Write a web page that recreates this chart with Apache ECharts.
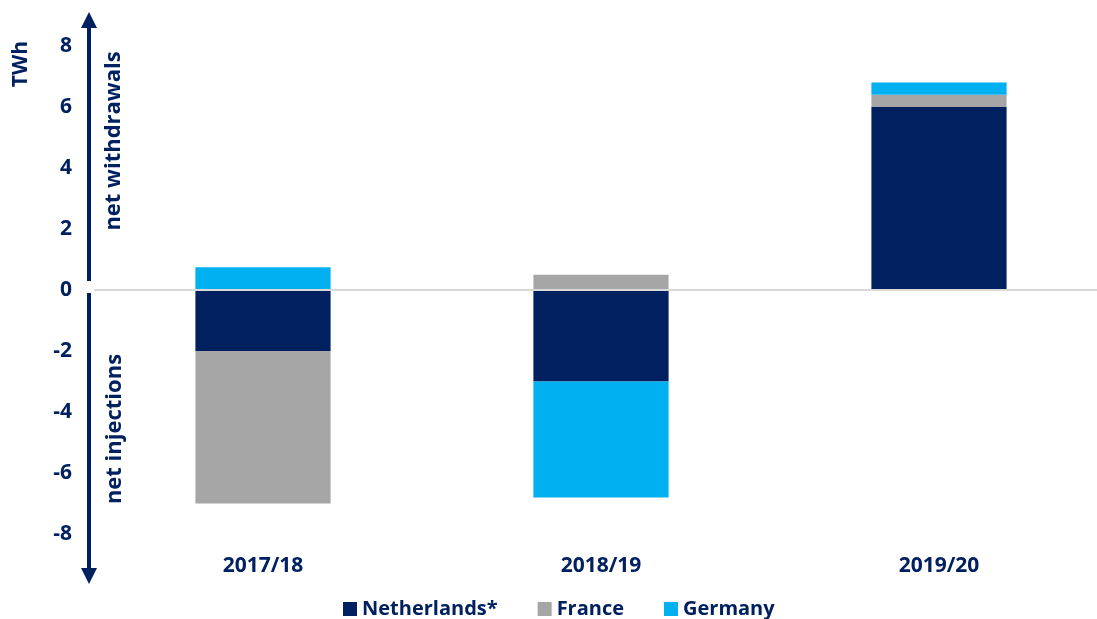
<!DOCTYPE html>
<html><head><meta charset="utf-8">
<script src="https://cdn.jsdelivr.net/npm/echarts@6/dist/echarts.min.js"></script>
<style>html,body{margin:0;padding:0;background:#fff;overflow:hidden}#c{width:1108px;height:619px}</style>
</head><body><div id="c"></div>
<script>
const categories = ['2017/18', '2018/19', '2019/20'];
const netherlands = [-2, -3, 6];
const france = [-5, 0.5, 0.4];
const germany = [0.75, -3.8, 0.4];
const yTicks = [-8, -6, -4, -2, 0, 2, 4, 6, 8];

const NAVY = '#002060', GREY = '#A6A6A6', CYAN = '#00B0F0';
const FONT = 'Open Sans';
const chart = echarts.init(document.getElementById('c'));
const option = {
  animation: false,
  grid: { left: 94, right: 0, top: 46, bottom: 85 },
  legend: {
    bottom: -5, left: 338, itemWidth: 14, itemHeight: 14, itemGap: 40,
    icon: 'rect',
    textStyle: { color: NAVY, fontFamily: FONT, fontWeight: 'bold', fontSize: 20 },
    data: ['Netherlands*', 'France', 'Germany']
  },
  xAxis: {
    type: 'category', data: categories, position: 'bottom',
    axisLine: { show: false, onZero: false }, axisTick: { show: false },
    axisLabel: { color: NAVY, fontFamily: FONT, fontWeight: 'bold', fontSize: 21, margin: 22 }
  },
  yAxis: {
    type: 'value', min: yTicks[0], max: yTicks[yTicks.length - 1], interval: 2,
    splitLine: { show: false }, axisLine: { show: false }, axisTick: { show: false },
    axisLabel: { color: NAVY, fontFamily: FONT, fontWeight: 'bold', fontSize: 21, margin: 22 }
  },
  series: [
    { name: 'Netherlands*', type: 'bar', stack: 's', data: netherlands, barWidth: '40%',
      itemStyle: { color: NAVY },
      markLine: { silent: true, symbol: 'none', label: { show: false },
        lineStyle: { color: '#D9D9D9', width: 2, type: 'solid' }, data: [{ yAxis: 0 }], z: 10 } },
    { name: 'France', type: 'bar', stack: 's', data: france, barWidth: '40%', itemStyle: { color: GREY } },
    { name: 'Germany', type: 'bar', stack: 's', data: germany, barWidth: '40%', itemStyle: { color: CYAN } }
  ]
};
chart.setOption(option);

const y0 = chart.convertToPixel({ yAxisIndex: 0 }, 0);
const yTop = chart.convertToPixel({ yAxisIndex: 0 }, yTicks[yTicks.length - 1]);
const yBot = chart.convertToPixel({ yAxisIndex: 0 }, yTicks[0]);
const ax = 89;
const style = { stroke: NAVY, lineWidth: 4 };
const rotFont = 'bold 22px "Open Sans"';
chart.setOption({
  graphic: [
    { type: 'line', shape: { x1: ax, y1: yTop - 20, x2: ax, y2: y0 - 9 }, style },
    { type: 'polygon', shape: { points: [[ax, yTop - 34], [ax - 8, yTop - 18], [ax + 8, yTop - 18]] }, style: { fill: NAVY } },
    { type: 'line', shape: { x1: ax, y1: y0 + 3, x2: ax, y2: yBot + 38 }, style },
    { type: 'polygon', shape: { points: [[ax, yBot + 50], [ax - 8, yBot + 34], [ax + 8, yBot + 34]] }, style: { fill: NAVY } },
    { type: 'text', x: 114, y: y0 - 149, rotation: Math.PI / 2, style: { text: 'net withdrawals', fill: NAVY, font: rotFont, align: 'center', verticalAlign: 'middle' } },
    { type: 'text', x: 115, y: y0 + 139, rotation: Math.PI / 2, style: { text: 'net injections', fill: NAVY, font: rotFont, align: 'center', verticalAlign: 'middle' } },
    { type: 'text', x: 21, y: 64, rotation: Math.PI / 2, style: { text: 'TWh', fill: NAVY, font: 'bold 21px "Open Sans"', align: 'center', verticalAlign: 'middle' } }
  ]
});
</script></body></html>
